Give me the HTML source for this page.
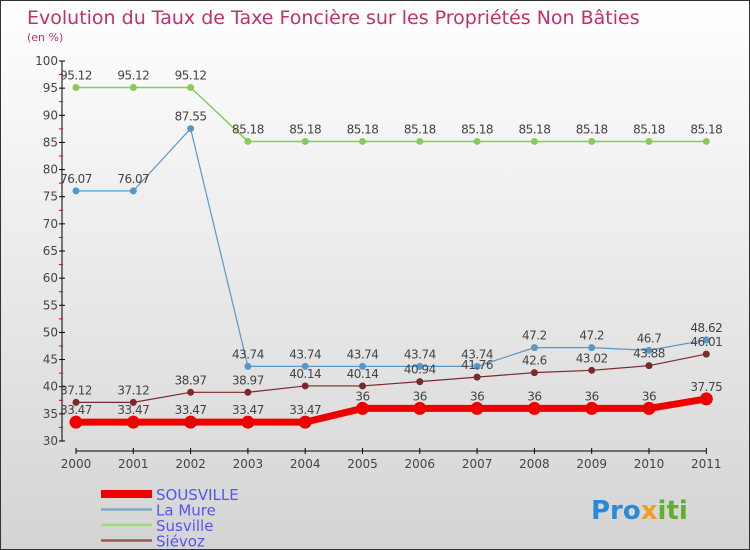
<!DOCTYPE html>
<html><head><meta charset="utf-8"><style>
body{margin:0}
#c{width:748px;height:548px;border:1px solid #333;background:linear-gradient(#ffffff,#d4d4d4);position:relative;overflow:hidden;font-family:"DejaVu Sans","Liberation Sans",sans-serif}
</style></head><body>
<div id="c">
<svg id="s" width="748" height="548">
<text x="26" y="23" font-size="19" fill="#c0306a">Evolution du Taux de Taxe Foncière sur les Propriétés Non Bâties</text>
<text x="26" y="40" font-size="11" fill="#c0306a">(en %)</text>
<g id="g"></g>
<text x="590" y="518" font-size="26" font-weight="bold" fill="#2a8ad8">Pro<tspan fill="#f0a020">x</tspan><tspan fill="#60b030">iti</tspan></text>
</svg>
</div>
<script>
const years=[2000,2001,2002,2003,2004,2005,2006,2007,2008,2009,2010,2011];
const sousville=[33.47,33.47,33.47,33.47,33.47,36,36,36,36,36,36,37.75];
const laMure=[76.07,76.07,87.55,43.74,43.74,43.74,43.74,43.74,47.2,47.2,46.7,48.62];
const susville=[95.12,95.12,95.12,85.18,85.18,85.18,85.18,85.18,85.18,85.18,85.18,85.18];
const sievoz=[37.12,37.12,38.97,38.97,40.14,40.14,40.94,41.76,42.6,43.02,43.88,46.01];
const yTicks=[30,35,40,45,50,55,60,65,70,75,80,85,90,95,100];
const NS="http://www.w3.org/2000/svg";
const g=document.getElementById('g');
const X=i=>75+i*57.3;
const Y=v=>440-(v-30)*380/70;
function el(t,a,p){const e=document.createElementNS(NS,t);for(const k in a)e.setAttribute(k,a[k]);(p||g).appendChild(e);return e;}
let ax=el('line',{x1:61,y1:Y(100),x2:61,y2:440,stroke:'#000'});


yTicks.forEach(v=>{
 el('line',{x1:58,x2:64,y1:Y(v),y2:Y(v),stroke:'#000'});
 if(v<100) el('line',{x1:58,x2:62,y1:Y(v+2.5),y2:Y(v+2.5),stroke:'#e00'});
 const t=el('text',{x:57,y:Y(v)+4,'font-size':12,'text-anchor':'end',fill:'#444'});t.textContent=v;
 
 
});
let xa=el('line',{x1:75,y1:450,x2:X(11),y2:450,stroke:'#000'});


years.forEach((y,i)=>{
 el('line',{x1:X(i),x2:X(i),y1:447,y2:453,stroke:'#000'});
 const t=el('text',{x:X(i),y:467,'font-size':12,'text-anchor':'middle',fill:'#444'});t.textContent=y;
 
 
});
function series(d,col,w,r,name){
 const p=el('polyline',{points:d.map((v,i)=>X(i)+','+Y(v)).join(' '),fill:'none',stroke:col,'stroke-width':w});
 
 
 d.forEach((v,i)=>{
  const c=el('circle',{cx:X(i),cy:Y(v),r:r,fill:col});
  
  
  const t=el('text',{x:X(i),y:Y(v)-8,'font-size':12,'text-anchor':'middle',fill:'#444','letter-spacing':'-0.5'});t.textContent=v;
  
  
 });
}
series(susville,'#88cc55',1.5,3.5,'susville');
series(laMure,'#5599cc',1.2,3.5,'la-mure');
series(sievoz,'#7a2a2a',1.2,3.5,'sievoz');
series(sousville,'#ee0000',7,6.5,'sousville');
const leg=[['SOUSVILLE','#ee0000',8],['La Mure','#7aaccc',2.5],['Susville','#99dd77',2.5],['Siévoz','#995555',2.5]];
leg.forEach((l,i)=>{
 const y=493+i*15.5;
 const ln=el('line',{x1:100,x2:151,y1:y,y2:y,stroke:l[1],'stroke-width':l[2]});
 
 
 const t=el('text',{x:155,y:y+6,'font-size':15,fill:'#5555ee'});t.textContent=l[0];
 
 
});
</script>
</body></html>
